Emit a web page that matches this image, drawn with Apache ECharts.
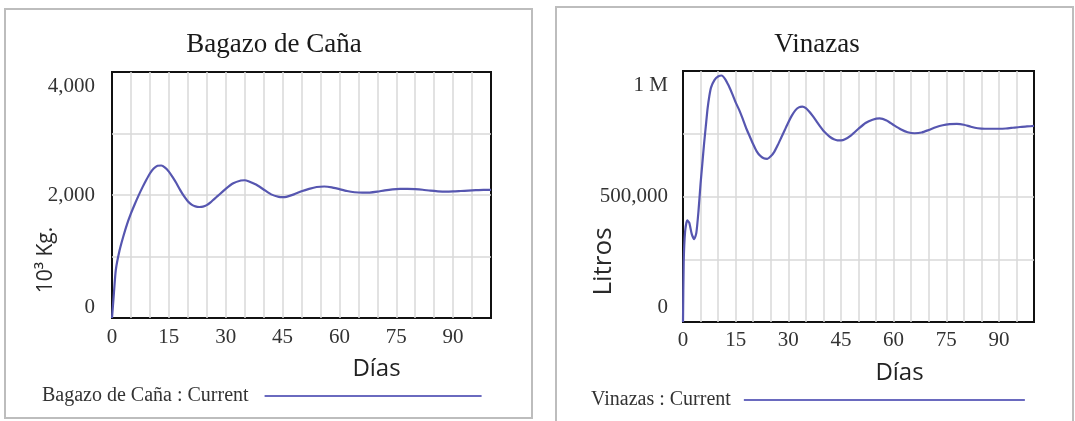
<!DOCTYPE html>
<html>
<head>
<meta charset="utf-8">
<script src="https://cdn.jsdelivr.net/npm/echarts@6/dist/echarts.min.js"></script>
<style>
html,body{margin:0;padding:0;background:#fff;}
#chart{width:1075px;height:421px;}
</style>
</head>
<body>
<div id="chart"></div>
<script>
// ---- Data ----
const bagazoDays = [0,0.5,1,2,3,4,5,6,7,8,9,10,11,12,13,14,15,16,17,18,19,20,21,22,23,24,25,26,28,30,32,34,35,36,38,40,42,44,45,46,48,50,52,54,56,58,60,62,64,66,68,70,72,74,76,78,80,82,84,86,88,90,92,94,96,98,100];
const bagazoValues = [0,400,780,1100,1330,1530,1700,1850,1990,2120,2240,2350,2430,2475,2480,2445,2380,2290,2190,2080,1980,1900,1845,1815,1805,1810,1835,1880,1990,2100,2190,2235,2240,2225,2170,2090,2010,1970,1965,1970,2010,2060,2100,2130,2138,2125,2095,2065,2045,2038,2040,2055,2075,2090,2098,2100,2095,2085,2070,2060,2055,2058,2065,2072,2078,2082,2082];

const vinazasDays = [0,0.2,0.6,1.2,1.8,2.5,3.2,3.8,4.4,5,5.5,6,6.5,7,7.5,8,9,10,11,12,13,14,15,16,17,18,19,20,21,22,23,24,25,26,27,28,29,30,31,32,33,34,35,36,37,38,39,40,41,42,43,44,45,46,48,50,52,54,56,58,60,62,64,66,68,70,72,74,76,78,80,82,84,86,88,90,92,94,96,98,100];
const vinazasValues = [0,240000,360000,405000,395000,350000,330000,355000,440000,550000,630000,710000,780000,850000,900000,935000,965000,978000,982000,968000,942000,910000,875000,845000,810000,772000,740000,708000,680000,662000,652000,650000,660000,678000,705000,735000,765000,795000,822000,843000,855000,858000,852000,838000,820000,800000,780000,762000,748000,736000,728000,724000,724000,727000,745000,770000,793000,806000,811000,803000,785000,768000,756000,752000,755000,765000,776000,784000,788000,789000,786000,778000,772000,770000,770000,770000,771000,774000,777000,779000,781000];

const xLabelStep = 15;
const bagazoTickValues = [0, 2000, 4000];
const bagazoTickLabels = ['0', '2,000', '4,000'];
const vinazasTickValues = [0, 500000, 1000000];
const vinazasTickLabels = ['0', '500,000', '1 M'];

const titles = ['Bagazo de Caña', 'Vinazas'];
const seriesNames = ['Bagazo de Caña : Current', 'Vinazas : Current'];
const yNames = ['10³ Kg.', 'Litros'];
const xName = 'Días';

// ---- Styling ----
const lineColor = '#5656b0';
const gridColor = '#d9d9d9';
const serif = '"Liberation Serif", "Times New Roman", serif';
const sans = '"Open Sans", "Noto Sans", sans-serif';

function zip(xs, ys) { return xs.map((x, i) => [x, ys[i]]); }

function yFormatter(vals, labels, max) {
  return function (v) {
    const i = vals.indexOf(v);
    if (i < 0) return '';
    if (v === max) return '{t|' + labels[i] + '}';
    if (v === 0) return '{b|' + labels[i] + '}';
    return labels[i];
  };
}

const chart = echarts.init(document.getElementById('chart'), null, {renderer: 'canvas'});

const splitLineStyle = {show: true, showMinLine: false, showMaxLine: false, lineStyle: {color: gridColor, width: 1.5}};

const xAxisBase = {
  type: 'value', min: 0, max: 100, interval: 5,
  axisLine: {show: false}, axisTick: {show: false},
  splitLine: splitLineStyle,
  axisLabel: {
    formatter: v => (v % xLabelStep === 0 && v < 100) ? String(v) : '',
    fontFamily: serif, fontSize: 21, color: '#333'
  },
  name: xName, nameLocation: 'middle', nameMoveOverlap: false,
  nameTextStyle: {fontFamily: sans, fontSize: 24, color: '#222'}
};

const option = {
  animation: false,
  backgroundColor: '#fff',
  graphic: [
    {type: 'rect', shape: {x: 5, y: 9, width: 527, height: 409}, style: {fill: 'none', stroke: '#bdbdbd', lineWidth: 2}, z: -10},
    {type: 'rect', shape: {x: 556, y: 7, width: 517, height: 440}, style: {fill: 'none', stroke: '#bdbdbd', lineWidth: 2}, z: -10}
  ],
  title: [
    {text: titles[0], left: 269, top: 26, textAlign: 'center',
     textStyle: {fontFamily: serif, fontSize: 27, fontWeight: 'normal', color: '#1a1a1a'}},
    {text: titles[1], left: 812, top: 26, textAlign: 'center',
     textStyle: {fontFamily: serif, fontSize: 27, fontWeight: 'normal', color: '#1a1a1a'}}
  ],
  legend: [
    {data: [seriesNames[0]], left: 37, top: 381, align: 'right', icon: 'rect',
     itemWidth: 217, itemHeight: 2, itemStyle: {color: '#6a6abf'},
     textStyle: {fontFamily: serif, fontSize: 20, color: '#333', padding: [0, 11, 0, 0]}},
    {data: [seriesNames[1]], left: 586, top: 385, align: 'right', icon: 'rect',
     itemWidth: 281, itemHeight: 2, itemStyle: {color: '#6a6abf'},
     textStyle: {fontFamily: serif, fontSize: 20, color: '#333', padding: [0, 8, 0, 0]}}
  ],
  grid: [
    {left: 112, top: 72, width: 379, height: 246, show: true, borderColor: '#111', borderWidth: 2, backgroundColor: '#fff'},
    {left: 683, top: 71, width: 351, height: 251, show: true, borderColor: '#111', borderWidth: 2, backgroundColor: '#fff'}
  ],
  xAxis: [
    Object.assign({}, xAxisBase, {gridIndex: 0, nameGap: 39,
      axisLabel: Object.assign({}, xAxisBase.axisLabel, {margin: 9}),
      nameTextStyle: Object.assign({}, xAxisBase.nameTextStyle, {padding: [0, 0, 0, 150]})}),
    Object.assign({}, xAxisBase, {gridIndex: 1, nameGap: 39,
      axisLabel: Object.assign({}, xAxisBase.axisLabel, {margin: 8}),
      nameTextStyle: Object.assign({}, xAxisBase.nameTextStyle, {padding: [0, 0, 0, 82]})})
  ],
  yAxis: [
    {type: 'value', gridIndex: 0, min: 0, max: 4000, interval: 1000,
     axisLine: {show: false}, axisTick: {show: false},
     splitLine: splitLineStyle,
     axisLabel: {formatter: yFormatter(bagazoTickValues, bagazoTickLabels, 4000), margin: 17,
       fontFamily: serif, fontSize: 21, color: '#333',
       rich: {t: {padding: [28, 0, 0, 0], fontFamily: serif, fontSize: 21, color: '#333'},
              b: {padding: [0, 0, 22, 0], fontFamily: serif, fontSize: 21, color: '#333'}}},
     name: yNames[0], nameLocation: 'middle', nameRotate: 90, nameGap: 55, nameMoveOverlap: false,
     nameTextStyle: {fontFamily: sans, fontSize: 21, color: '#2a2a2a', padding: [0, 130, 0, 0]}},
    {type: 'value', gridIndex: 1, min: 0, max: 1000000, interval: 250000,
     axisLine: {show: false}, axisTick: {show: false},
     splitLine: splitLineStyle,
     axisLabel: {formatter: yFormatter(vinazasTickValues, vinazasTickLabels, 1000000), margin: 15,
       fontFamily: serif, fontSize: 21, color: '#333',
       rich: {t: {padding: [28, 0, 0, 0], fontFamily: serif, fontSize: 21, color: '#333'},
              b: {padding: [0, 0, 30, 0], fontFamily: serif, fontSize: 21, color: '#333'}}},
     name: yNames[1], nameLocation: 'middle', nameRotate: 90, nameGap: 66, nameMoveOverlap: false,
     nameTextStyle: {fontFamily: sans, fontSize: 26, color: '#2a2a2a', padding: [0, 130, 0, 0]}}
  ],
  series: [
    {name: seriesNames[0], type: 'line', xAxisIndex: 0, yAxisIndex: 0,
     data: zip(bagazoDays, bagazoValues), showSymbol: false, symbol: 'none', smooth: 0.2,
     lineStyle: {color: lineColor, width: 2.2}, itemStyle: {color: lineColor}},
    {name: seriesNames[1], type: 'line', xAxisIndex: 1, yAxisIndex: 1,
     data: zip(vinazasDays, vinazasValues), showSymbol: false, symbol: 'none', smooth: 0.2,
     lineStyle: {color: lineColor, width: 2.2}, itemStyle: {color: lineColor}}
  ]
};
chart.setOption(option);
</script>
</body>
</html>
